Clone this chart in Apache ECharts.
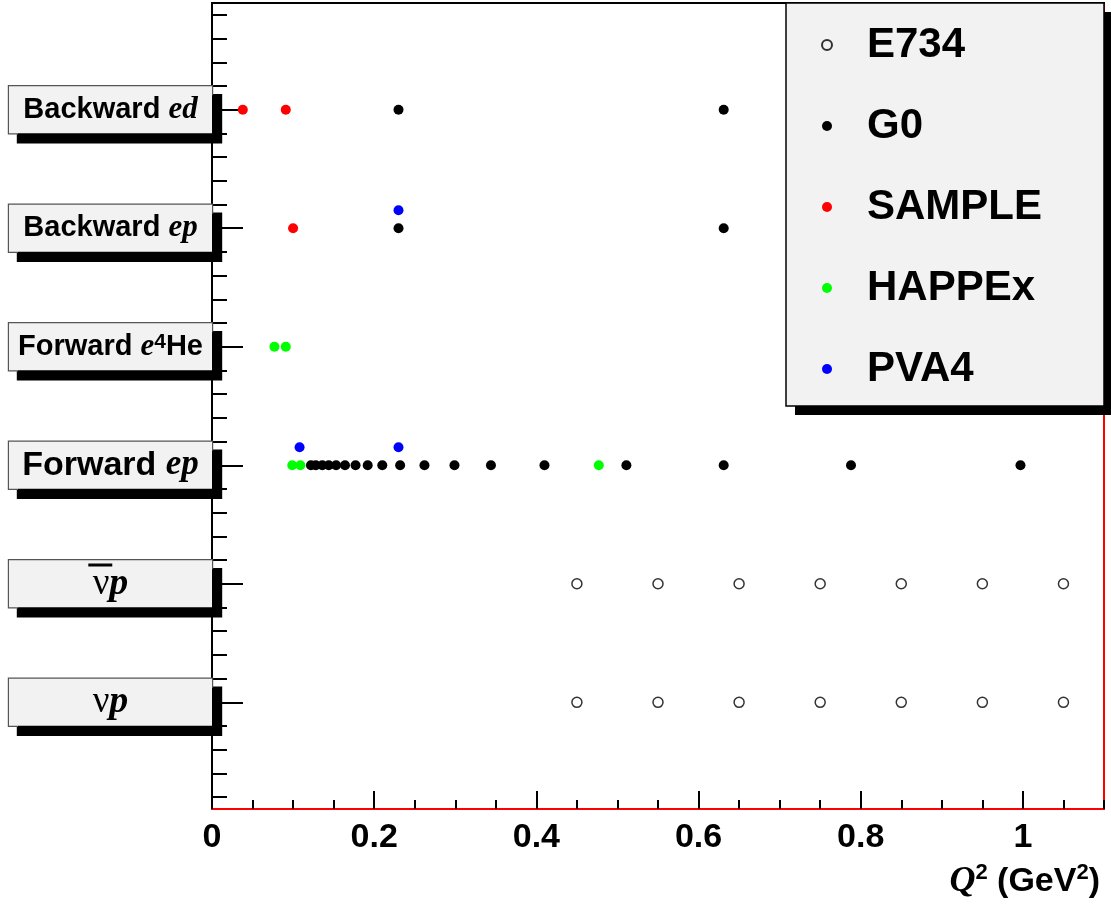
<!DOCTYPE html>
<html><head><meta charset="utf-8">
<script src="https://cdn.jsdelivr.net/npm/echarts@6/dist/echarts.min.js"></script>
<style>html,body{margin:0;padding:0;background:#fff}#c{width:1111px;height:904px}</style>
</head><body><div id="c"></div>
<script>
// ---- data ----
const categories = ['νp', 'ν̄p', 'Forward ep', 'Forward e4He', 'Backward ep', 'Backward ed']; // bottom -> top
const seriesNames = ['E734', 'G0', 'SAMPLE', 'HAPPEx', 'PVA4'];

const e734_nup    = [0.45, 0.55, 0.65, 0.75, 0.85, 0.95, 1.05];
const e734_nubarp = [0.45, 0.55, 0.65, 0.75, 0.85, 0.95, 1.05];
const g0_fwd_ep   = [0.122, 0.128, 0.136, 0.144, 0.153, 0.164, 0.177, 0.192, 0.210, 0.232, 0.262, 0.299, 0.344, 0.410, 0.511, 0.631, 0.788, 0.997];
const g0_bwd_ep   = [0.230, 0.631];
const g0_bwd_ed   = [0.230, 0.631];
const sample_bwd_ep = [0.100];
const sample_bwd_ed = [0.038, 0.091];
const happex_fwd_ep = [0.099, 0.109, 0.477];
const happex_fwd_he = [0.077, 0.091];
const pva4_fwd_ep   = [0.108, 0.230];
const pva4_bwd_ep   = [0.230];

const xTickLabels = [0, 0.2, 0.4, 0.6, 0.8, 1.0];
const xMinorTicks = [];
for (let i = 0; i <= 22; i++) xMinorTicks.push(+(i * 0.05).toFixed(2));
const yCatTicks = [0, 1, 2, 3, 4, 5];
const yMinorTicks = [];
for (let i = 0; i <= 33; i++) yMinorTicks.push(+(-0.8 + i * 0.2).toFixed(2));

// ---- helpers ----
const pts = (cat, arr) => arr.map(q => [q, categories.indexOf(cat)]);
const SANS = 'Liberation Sans, Arial, sans-serif';
const SERIF = 'Liberation Serif, Times New Roman, serif';

const labelRich = {
  'νp': '{nu|ν}{pi|p}',
  'ν̄p': '{nu|ν}{bar|¯}{pi|p}',
  'Forward ep': '{f|Forward }{fi|ep}',
  'Forward e4He': '{h|Forward }{hi|e}{sup|4}{h|He}',
  'Backward ep': '{b|Backward }{bi|ep}',
  'Backward ed': '{b|Backward }{bi|ed}'
};
const tok = (o) => Object.assign({align: 'center', lineHeight: 47, verticalAlign: 'middle', color: '#000'}, o);
const rich = {
  b: tok({fontFamily: SANS, fontWeight: 'bold', fontSize: 29}),
  bi: tok({fontFamily: SERIF, fontWeight: 'bold', fontStyle: 'italic', fontSize: 31}),
  f: tok({fontFamily: SANS, fontWeight: 'bold', fontSize: 34}),
  fi: tok({fontFamily: SERIF, fontWeight: 'bold', fontStyle: 'italic', fontSize: 35}),
  h: tok({fontFamily: SANS, fontWeight: 'bold', fontSize: 29}),
  hi: tok({fontFamily: SERIF, fontWeight: 'bold', fontStyle: 'italic', fontSize: 31}),
  sup: tok({fontFamily: SANS, fontWeight: 'bold', fontSize: 21, verticalAlign: 'top', height: 37, lineHeight: 37}),
  nu: tok({fontFamily: SERIF, fontSize: 37}),
  bar: tok({fontFamily: SANS, fontWeight: 'bold', fontSize: 40, width: 0, padding: [0, 9, 0, -9], textBorderColor: '#000', textBorderWidth: 1.2}),
  pi: tok({fontFamily: SERIF, fontWeight: 'bold', fontStyle: 'italic', fontSize: 38})
};

const dot = (name, color, data, extra) => Object.assign({
  name, type: 'scatter', xAxisIndex: 0, yAxisIndex: 0,
  symbol: 'circle', symbolSize: 10, data,
  itemStyle: {color, opacity: 1}, emphasis: {disabled: true}, silent: true
}, extra || {});

const chart = echarts.init(document.getElementById('c'), null, {renderer: 'canvas'});
chart.setOption({
  animation: false,
  backgroundColor: '#fff',
  grid: {left: 212, right: 7, top: 3, bottom: 95, show: true, borderColor: '#ff0000', borderWidth: 2, backgroundColor: 'transparent', containLabel: false, outerBoundsMode: 'none'},
  xAxis: [
    {
      type: 'value', min: 0, max: 1.1, position: 'bottom',
      axisLine: {show: true, onZero: false, lineStyle: {color: '#ff0000', width: 2}},
      axisTick: {show: true, inside: true, length: 18, customValues: xTickLabels, lineStyle: {color: '#000', width: 2}},
      axisLabel: {show: true, customValues: xTickLabels, margin: 12, fontFamily: SANS, fontWeight: 'bold', fontSize: 34, color: '#000',
        formatter: v => String(+v.toFixed(1))},
      splitLine: {show: false},
      name: '{q|Q}{s|2}{t| (GeV}{s|2}{t|)}',
      nameLocation: 'end', nameGap: -4,
      nameTextStyle: {align: 'right', verticalAlign: 'top', padding: [53, 0, 0, 0],
        rich: {
          q: {fontFamily: SERIF, fontStyle: 'italic', fontWeight: 'bold', fontSize: 36, lineHeight: 40, verticalAlign: 'middle', color: '#000'},
          s: {fontFamily: SANS, fontWeight: 'bold', fontSize: 22, lineHeight: 30, verticalAlign: 'top', color: '#000'},
          t: {fontFamily: SANS, fontWeight: 'bold', fontSize: 34, lineHeight: 40, verticalAlign: 'middle', color: '#000'}
        }}
    },
    {
      type: 'value', min: 0, max: 1.1, position: 'bottom',
      axisLine: {show: false, onZero: false},
      axisTick: {show: true, inside: true, length: 9, customValues: xMinorTicks, lineStyle: {color: '#000', width: 2}},
      axisLabel: {show: false}, splitLine: {show: false}
    },
    {
      type: 'value', min: 0, max: 1.1, position: 'top',
      axisLine: {show: true, onZero: false, lineStyle: {color: '#000', width: 2}},
      axisTick: {show: false}, axisLabel: {show: false}, splitLine: {show: false}
    }
  ],
  yAxis: [
    {
      type: 'value', min: -0.9, max: 5.9, position: 'left',
      axisLine: {show: true, onZero: false, lineStyle: {color: '#000', width: 2}},
      axisTick: {show: true, inside: true, length: 15, customValues: yMinorTicks, lineStyle: {color: '#000', width: 2}},
      axisLabel: {show: false}, splitLine: {show: false}
    },
    {
      type: 'value', min: -0.9, max: 5.9, position: 'left', offset: 0,
      axisLine: {show: false, onZero: false},
      axisTick: {show: true, inside: true, length: 31, customValues: yCatTicks, lineStyle: {color: '#000', width: 2}},
      axisLabel: {
        show: true, customValues: yCatTicks, margin: 0, width: 203, overflow: 'none',
        backgroundColor: '#f2f2f2', borderColor: '#555', borderWidth: 1.2,
        shadowColor: '#000', shadowBlur: 0, shadowOffsetX: 9, shadowOffsetY: 9,
        formatter: v => labelRich[categories[Math.round(v)]],
        rich
      },
      splitLine: {show: false}
    }
  ],
  legend: {
    orient: 'vertical', left: 821, top: 20, itemWidth: 10, itemHeight: 10, itemGap: 31,
    selectedMode: false, z: 20, padding: 0,
    textStyle: {fontFamily: SANS, fontWeight: 'bold', fontSize: 42, color: '#000', lineHeight: 50, padding: [0, 0, 0, 30]},
    data: seriesNames
  },
  graphic: [
    {type: 'rect', z: 15, shape: {x: 795, y: 12, width: 316, height: 403}, style: {fill: '#000'}},
    {type: 'rect', z: 16, shape: {x: 786, y: 3, width: 318, height: 403}, style: {fill: '#f2f2f2', stroke: '#000', lineWidth: 1.5}}
  ],
  series: [
    dot('E734', 'rgba(255,255,255,0)', pts('νp', e734_nup).concat(pts('ν̄p', e734_nubarp)),
      {itemStyle: {color: 'rgba(255,255,255,0)', borderColor: '#000', borderWidth: 1.5}}),
    dot('G0', '#000', pts('Forward ep', g0_fwd_ep).concat(pts('Backward ep', g0_bwd_ep), pts('Backward ed', g0_bwd_ed))),
    dot('SAMPLE', '#ff0000', pts('Backward ep', sample_bwd_ep).concat(pts('Backward ed', sample_bwd_ed))),
    dot('HAPPEx', '#00ff00', pts('Forward ep', happex_fwd_ep).concat(pts('Forward e4He', happex_fwd_he))),
    dot('PVA4', '#0000ff', pts('Forward ep', pva4_fwd_ep).concat(pts('Backward ep', pva4_bwd_ep)), {symbolOffset: [0, -18]})
  ]
});
</script></body></html>
